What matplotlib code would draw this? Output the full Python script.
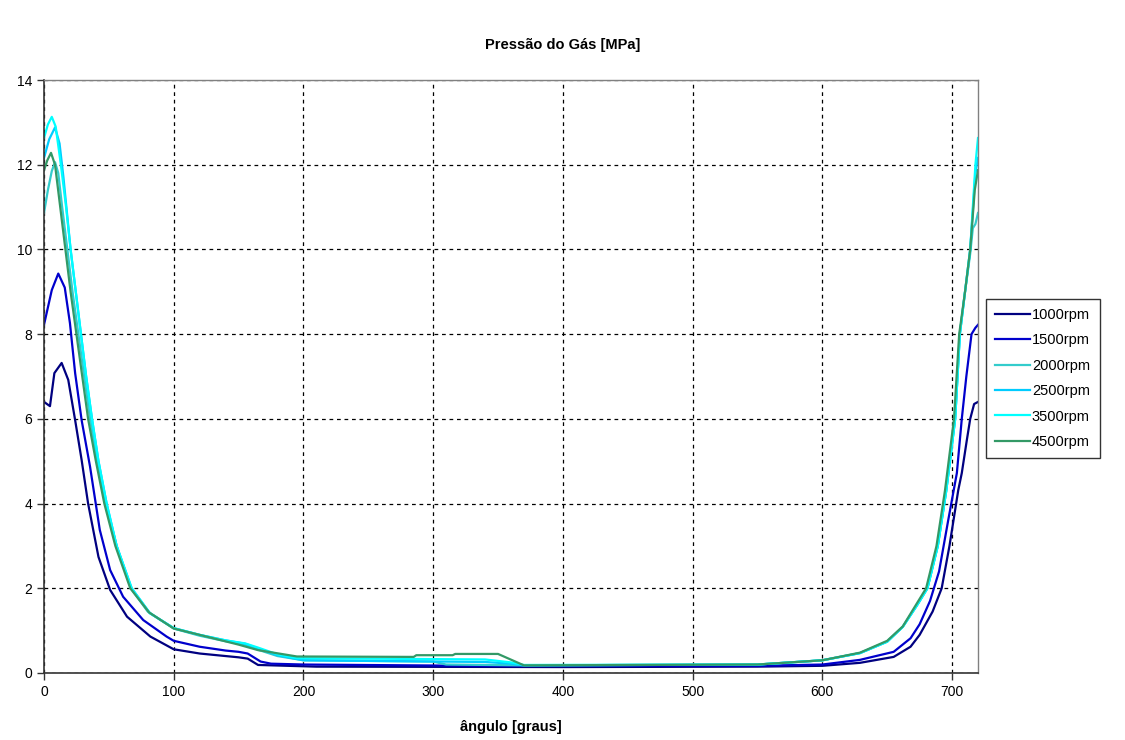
import matplotlib
matplotlib.use("Agg")
import matplotlib.pyplot as plt

plt.rcParams['font.family'] = ['Liberation Sans', 'DejaVu Sans']

title = "Pressão do Gás [MPa]"
xlabel = "ângulo [graus]"
labels = ["1000rpm", "1500rpm", "2000rpm", "2500rpm", "3500rpm", "4500rpm"]
colors = ["#000080", "#0000CC", "#33CCCC", "#00CCFF", "#00FFFF", "#339966"]

ang_1000 = [0, 4.6, 8, 13.6, 18.7, 24, 29, 34, 42, 51, 64, 82, 100, 120, 140, 150, 157, 165,
            210, 400, 550, 600, 629, 655, 668, 675, 685, 692, 698, 704.8, 707.5, 711.4, 714, 717, 720]
p_1000 = [6.4, 6.3, 7.08, 7.32, 6.92, 5.97, 5.03, 4.0, 2.74, 1.96, 1.33, 0.86, 0.56, 0.46, 0.40, 0.37, 0.34, 0.19,
          0.15, 0.14, 0.15, 0.17, 0.24, 0.38, 0.62, 0.90, 1.45, 2.0, 3.0, 4.32, 4.72, 5.5, 6.0, 6.35, 6.4]

ang_1500 = [0, 6, 11, 16, 20, 24, 29, 35.5, 43, 51, 61, 76.5, 94.5, 100, 120, 140, 150, 157, 167, 175,
            200, 330, 550, 600, 629, 655, 668, 675, 683, 690, 697, 703.7, 707.5, 711, 715, 718, 720]
p_1500 = [8.22, 9.04, 9.43, 9.1, 8.26, 7.08, 5.97, 4.87, 3.38, 2.43, 1.8, 1.25, 0.86, 0.76, 0.62, 0.53, 0.5, 0.46, 0.27, 0.22,
          0.2, 0.17, 0.17, 0.2, 0.31, 0.5, 0.82, 1.15, 1.7, 2.4, 3.6, 4.72, 6.0, 7.0, 8.0, 8.15, 8.22]

ang_2000 = [0, 3, 6, 8.5, 11, 14, 18, 22, 26.5, 31, 35.5, 41, 47.5, 56, 67, 80, 100, 120, 140, 155, 165, 180, 200,
            300, 310, 370, 550, 600, 629, 650, 662, 673, 681, 689, 695.5, 702.4, 706, 710, 714, 716, 718, 720]
p_2000 = [10.86, 11.4, 11.85, 12.06, 11.8, 11.0, 10.0, 9.0, 8.0, 7.0, 6.0, 5.0, 4.0, 3.0, 2.0, 1.45, 1.05, 0.88, 0.75, 0.67, 0.55, 0.4, 0.3,
          0.27, 0.2, 0.18, 0.2, 0.3, 0.47, 0.74, 1.09, 1.6, 2.0, 3.0, 4.3, 6.0, 8.0, 9.0, 9.9, 10.5, 10.6, 10.86]

ang_2500 = [0, 4, 8.5, 12, 15, 20.5, 24.5, 28.5, 32.5, 37, 42, 48.3, 56, 67.6, 81.7, 100, 120, 140, 155, 165, 180, 200,
            340, 360, 370, 550, 600, 629, 650, 662, 673, 681, 689, 695.5, 702.4, 706, 710, 714, 718, 720]
p_2500 = [12.16, 12.6, 12.88, 12.5, 11.7, 10.0, 9.0, 8.0, 7.0, 6.0, 5.0, 4.0, 3.0, 2.0, 1.41, 1.06, 0.9, 0.77, 0.69, 0.58, 0.42, 0.3,
          0.26, 0.22, 0.18, 0.2, 0.3, 0.47, 0.74, 1.09, 1.6, 2.0, 3.0, 4.3, 6.0, 8.0, 9.0, 10.0, 11.8, 12.16]

ang_3500 = [0, 3, 6, 9, 13, 17, 20.5, 24.5, 28.5, 32.5, 37, 42, 48.3, 56, 67.6, 81.7, 100, 120, 140, 155, 165, 180, 195,
            340, 360, 370, 550, 600, 629, 650, 662, 673, 681, 689, 695.5, 702.4, 706, 710, 714, 718, 720]
p_3500 = [12.63, 12.95, 13.13, 12.9, 12.0, 11.0, 10.0, 9.0, 8.0, 7.0, 6.0, 5.0, 4.0, 3.0, 2.0, 1.41, 1.06, 0.9, 0.77, 0.7, 0.6, 0.44, 0.35,
          0.32, 0.25, 0.19, 0.2, 0.3, 0.47, 0.74, 1.09, 1.6, 2.0, 3.0, 4.3, 6.0, 8.0, 9.0, 10.0, 12.0, 12.63]

ang_4500 = [0, 2.5, 5.4, 8.5, 12.5, 16.5, 20.5, 25, 29.5, 34, 40, 46.5, 55, 66.5, 81, 100, 120, 150, 165, 195,
            285, 287, 315, 317, 350, 370, 550, 600, 629, 650, 662, 673, 680, 688, 694.5, 701.5, 705.5, 710, 714, 717.5, 720]
p_4500 = [11.87, 12.1, 12.28, 12.0, 11.0, 10.0, 9.0, 8.0, 7.0, 6.0, 5.0, 4.0, 3.0, 2.0, 1.43, 1.05, 0.9, 0.67, 0.54, 0.39,
          0.38, 0.42, 0.42, 0.45, 0.45, 0.18, 0.2, 0.3, 0.48, 0.76, 1.1, 1.65, 2.0, 3.0, 4.3, 6.0, 8.0, 9.0, 10.0, 11.4, 11.87]

angles = [ang_1000, ang_1500, ang_2000, ang_2500, ang_3500, ang_4500]
pressures = [p_1000, p_1500, p_2000, p_2500, p_3500, p_4500]

fig = plt.figure(figsize=(11.25, 7.4), dpi=100)
ax = fig.add_axes([44 / 1125, 1 - 673 / 740, (978 - 44) / 1125, (673 - 80) / 740])

for a, p, c, lab in zip(angles, pressures, colors, labels):
    ax.plot(a, p, color=c, lw=1.6, label=lab, solid_joinstyle='round')

ax.set_xlim(0, 720)
ax.set_ylim(0, 14)
ax.set_xticks(range(0, 701, 100))
ax.set_yticks(range(0, 15, 2))
ax.grid(True, color='black', linestyle=(0, (3, 3)), linewidth=0.9)
ax.tick_params(direction='out', length=5, width=1, labelsize=10, color='#333333')
for s in ['left', 'bottom']:
    ax.spines[s].set_color('#333333')
    ax.spines[s].set_linewidth(1.2)
for s in ['top', 'right']:
    ax.spines[s].set_color('#808080')
    ax.spines[s].set_linewidth(1.0)

fig.text(563 / 1125, 1 - 45 / 740, title, ha='center', va='center', fontsize=10.5, fontweight='bold')
fig.text(511 / 1125, 1 - 727 / 740, xlabel, ha='center', va='center', fontsize=10.5, fontweight='bold')

leg = fig.legend(loc='center left', bbox_to_anchor=(986 / 1125, 1 - 378.5 / 740), frameon=True,
                 fontsize=10.5, handlelength=2.4, handletextpad=0.1, labelspacing=0.78,
                 borderpad=0.65, borderaxespad=0.0, fancybox=False, edgecolor='black')
leg.get_frame().set_linewidth(1.0)

fig.savefig("out.png", dpi=100)
